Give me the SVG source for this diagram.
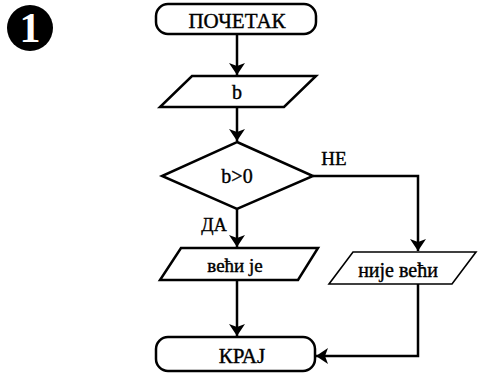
<svg xmlns="http://www.w3.org/2000/svg" width="478" height="374" viewBox="0 0 478 374">
<style>
.s{fill:#fff;stroke:#000;stroke-width:2.5;stroke-linejoin:miter}
.t{font-family:"Liberation Serif","Times New Roman",serif;font-size:20px;fill:#000;stroke:#000;stroke-width:0.4;text-anchor:middle}
.c{fill:none;stroke:#000;stroke-width:2.5}
</style>
<defs>
<marker id="ah" markerWidth="12" markerHeight="16" refX="12" refY="8" orient="auto" markerUnits="userSpaceOnUse" viewBox="0 0 12 16">
<path d="M0,0 L12,8 L0,16 L3,8 z" fill="#000"/>
</marker>
</defs>
<g id="badge">
<circle cx="30" cy="28" r="23" fill="#000"/>
<text x="30" y="42" style="font-family:'Liberation Serif',serif;font-size:42px;font-weight:bold;fill:#fff;text-anchor:middle">1</text>
</g>
<g id="connectors">
<path class="c" d="M237,34 V75" marker-end="url(#ah)"/>
<path class="c" d="M237,107 V141" marker-end="url(#ah)"/>
<path class="c" d="M237,209 V247" marker-end="url(#ah)"/>
<path class="c" d="M237,280 V336" marker-end="url(#ah)"/>
<path class="c" d="M313,176 H418 V251" marker-end="url(#ah)"/>
<path class="c" d="M418,284 V356 H316" marker-end="url(#ah)"/>
<text class="t" x="334" y="165" style="font-size:19px">НЕ</text>
<text class="t" x="214" y="231" style="font-size:18px">ДА</text>
</g>
<g id="start">
<rect class="s" x="156" y="4" width="160" height="30" rx="12"/>
<text class="t" x="237" y="28" style="font-size:21px">ПОЧЕТАК</text>
</g>
<g id="input_b">
<polygon class="s" points="192,76 316,76 284,107 160,107"/>
<text class="t" x="237" y="99">b</text>
</g>
<g id="decision">
<polygon class="s" points="237,142 313,176 237,209 162,176"/>
<text class="t" x="237" y="183">b&gt;0</text>
</g>
<g id="out_yes">
<polygon class="s" points="181,248 318,248 298,280 160,280"/>
<text class="t" x="235" y="272" style="font-size:19px">већи је</text>
</g>
<g id="out_no">
<polygon class="s" points="353,252 476,252 452,284 329,284" style="stroke-width:1.6"/>
<text class="t" x="398" y="277" style="font-size:20px">није већи</text>
</g>
<g id="end">
<rect class="s" x="156" y="337" width="159" height="34" rx="12"/>
<text class="t" x="242" y="363" style="font-size:21px">КРАЈ</text>
</g>
</svg>
